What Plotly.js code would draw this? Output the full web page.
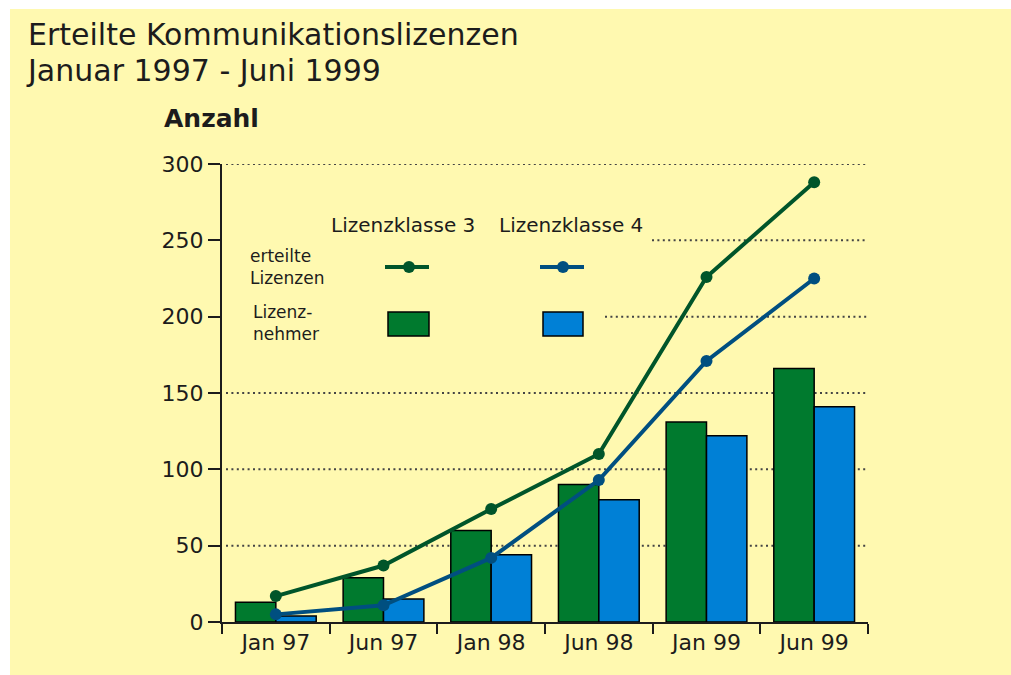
<!DOCTYPE html>
<html>
<head>
<meta charset="utf-8">
<script src="https://cdn.plot.ly/plotly-3.0.1.min.js"></script>
<style>html,body{margin:0;padding:0;background:#fff;}#chart{width:1011px;height:675px;}</style>
</head>
<body>
<div id="chart"></div>
<script>
// ---- data ----
const categories = ['Jan 97', 'Jun 97', 'Jan 98', 'Jun 98', 'Jan 99', 'Jun 99'];
const lizenznehmerK3 = [13, 29, 60, 90, 131, 166];
const lizenznehmerK4 = [4, 15, 44, 80, 122, 141];
const lizenzenK3 = [17, 37, 74, 110, 226, 288];
const lizenzenK4 = [5, 11, 42, 93, 171, 225];
const yTicks = [0, 50, 100, 150, 200, 250, 300];

// ---- layout helpers (pixel -> paper) ----
const L = 222, R = 868, T = 164, B = 622;
const W = R - L, H = B - T;
const px = x => (x - L) / W;
const py = y => (B - y) / H;

const bg = '#FFF9B0';
const ink = '#1c1c1c';
const green = '#007A2E', blue = '#0080D6';
const greenLine = '#00552A', blueLine = '#004F80';
const font = 'DejaVu Sans, Verdana, sans-serif';

const traces = [
  { type: 'bar', x: categories, y: lizenznehmerK3, marker: { color: green, line: { color: '#000', width: 1.5 } }, hoverinfo: 'y' },
  { type: 'bar', x: categories, y: lizenznehmerK4, marker: { color: blue, line: { color: '#000', width: 1.5 } }, hoverinfo: 'y' },
  { type: 'scatter', mode: 'lines+markers', x: categories, y: lizenzenK3, line: { color: greenLine, width: 4 }, marker: { color: greenLine, size: 12 } },
  { type: 'scatter', mode: 'lines+markers', x: categories, y: lizenzenK4, line: { color: blueLine, width: 4 }, marker: { color: blueLine, size: 12 } }
];

const shapes = [];
// yellow card
shapes.push({ type: 'rect', xref: 'paper', yref: 'paper', x0: px(10), x1: px(1011), y0: py(9), y1: py(675), fillcolor: bg, line: { width: 0 }, layer: 'below' });
// dotted grid lines (segments interrupted by legend area)
const gridStart = { 300: 226, 250: 652, 200: 605, 150: 226, 100: 226, 50: 226 };
yTicks.filter(v => v > 0).forEach(v => {
  shapes.push({ type: 'line', xref: 'paper', yref: 'y', x0: px(gridStart[v]), x1: 1, y0: v, y1: v, line: { color: '#444', width: 2, dash: '2px,3.4px' }, layer: 'below' });
});
// x axis extension left of y axis
shapes.push({ type: 'line', xref: 'paper', yref: 'paper', x0: px(209), x1: 0, y0: 0, y1: 0, line: { color: ink, width: 2 } });
// legend samples
function lineSample(x0, x1, y, cx, col) {
  shapes.push({ type: 'line', xref: 'paper', yref: 'paper', x0: px(x0), x1: px(x1), y0: py(y), y1: py(y), line: { color: col, width: 4 } });
  shapes.push({ type: 'circle', xref: 'paper', yref: 'paper', x0: px(cx - 6), x1: px(cx + 6), y0: py(y - 6), y1: py(y + 6), fillcolor: col, line: { width: 0 } });
}
lineSample(385, 429, 267, 409, greenLine);
lineSample(540, 584, 267, 563, blueLine);
shapes.push({ type: 'rect', xref: 'paper', yref: 'paper', x0: px(388), x1: px(429), y0: py(312), y1: py(336), fillcolor: green, line: { color: '#000', width: 1.5 } });
shapes.push({ type: 'rect', xref: 'paper', yref: 'paper', x0: px(543), x1: px(583), y0: py(312), y1: py(336), fillcolor: blue, line: { color: '#000', width: 1.5 } });

function ann(text, x, y, size, opts) {
  return Object.assign({ text: text, xref: 'paper', yref: 'paper', x: px(x), y: py(y), xanchor: 'left', yanchor: 'middle', showarrow: false, font: { family: font, size: size, color: ink } }, opts || {});
}
const annotations = [
  ann('Januar 1997 - Juni 1999', 24, 70, 30),
  ann('<b>Anzahl</b>', 162, 118, 25),
  ann('Lizenzklasse 3', 329, 225, 20),
  ann('Lizenzklasse 4', 497, 225, 20),
  ann('erteilte<br>Lizenzen', 248, 267, 17, { align: 'left' }),
  ann('Lizenz-<br>nehmer', 251, 323, 17, { align: 'left' })
];

const layout = {
  width: 1011, height: 675,
  margin: { l: L, r: 1011 - R, t: T, b: 675 - B, pad: 0 },
  paper_bgcolor: '#ffffff', plot_bgcolor: 'rgba(0,0,0,0)',
  showlegend: false,
  barmode: 'group', bargap: 0.25, bargroupgap: 0,
  title: { text: 'Erteilte Kommunikationslizenzen', xref: 'container', yref: 'container', x: 28 / 1011, xanchor: 'left', y: 1 - 34 / 675, yanchor: 'middle', font: { family: font, size: 30, color: ink } },
  font: { family: font, color: ink },
  xaxis: {
    type: 'category', showgrid: false, showline: true, linecolor: ink, linewidth: 2,
    ticks: 'outside', tickson: 'boundaries', ticklen: 10, tickwidth: 2, tickcolor: ink,
    tickfont: { family: font, size: 22, color: ink }, fixedrange: true
  },
  yaxis: {
    range: [0, 300], tickvals: yTicks, showgrid: false, zeroline: false,
    showline: true, linecolor: ink, linewidth: 2,
    ticks: 'outside', ticklen: 12, tickwidth: 2, tickcolor: ink,
    tickfont: { family: font, size: 22, color: ink }, fixedrange: true
  },
  shapes: shapes,
  annotations: annotations
};

Plotly.newPlot('chart', traces, layout, { displayModeBar: false, staticPlot: true });
</script>
</body>
</html>
